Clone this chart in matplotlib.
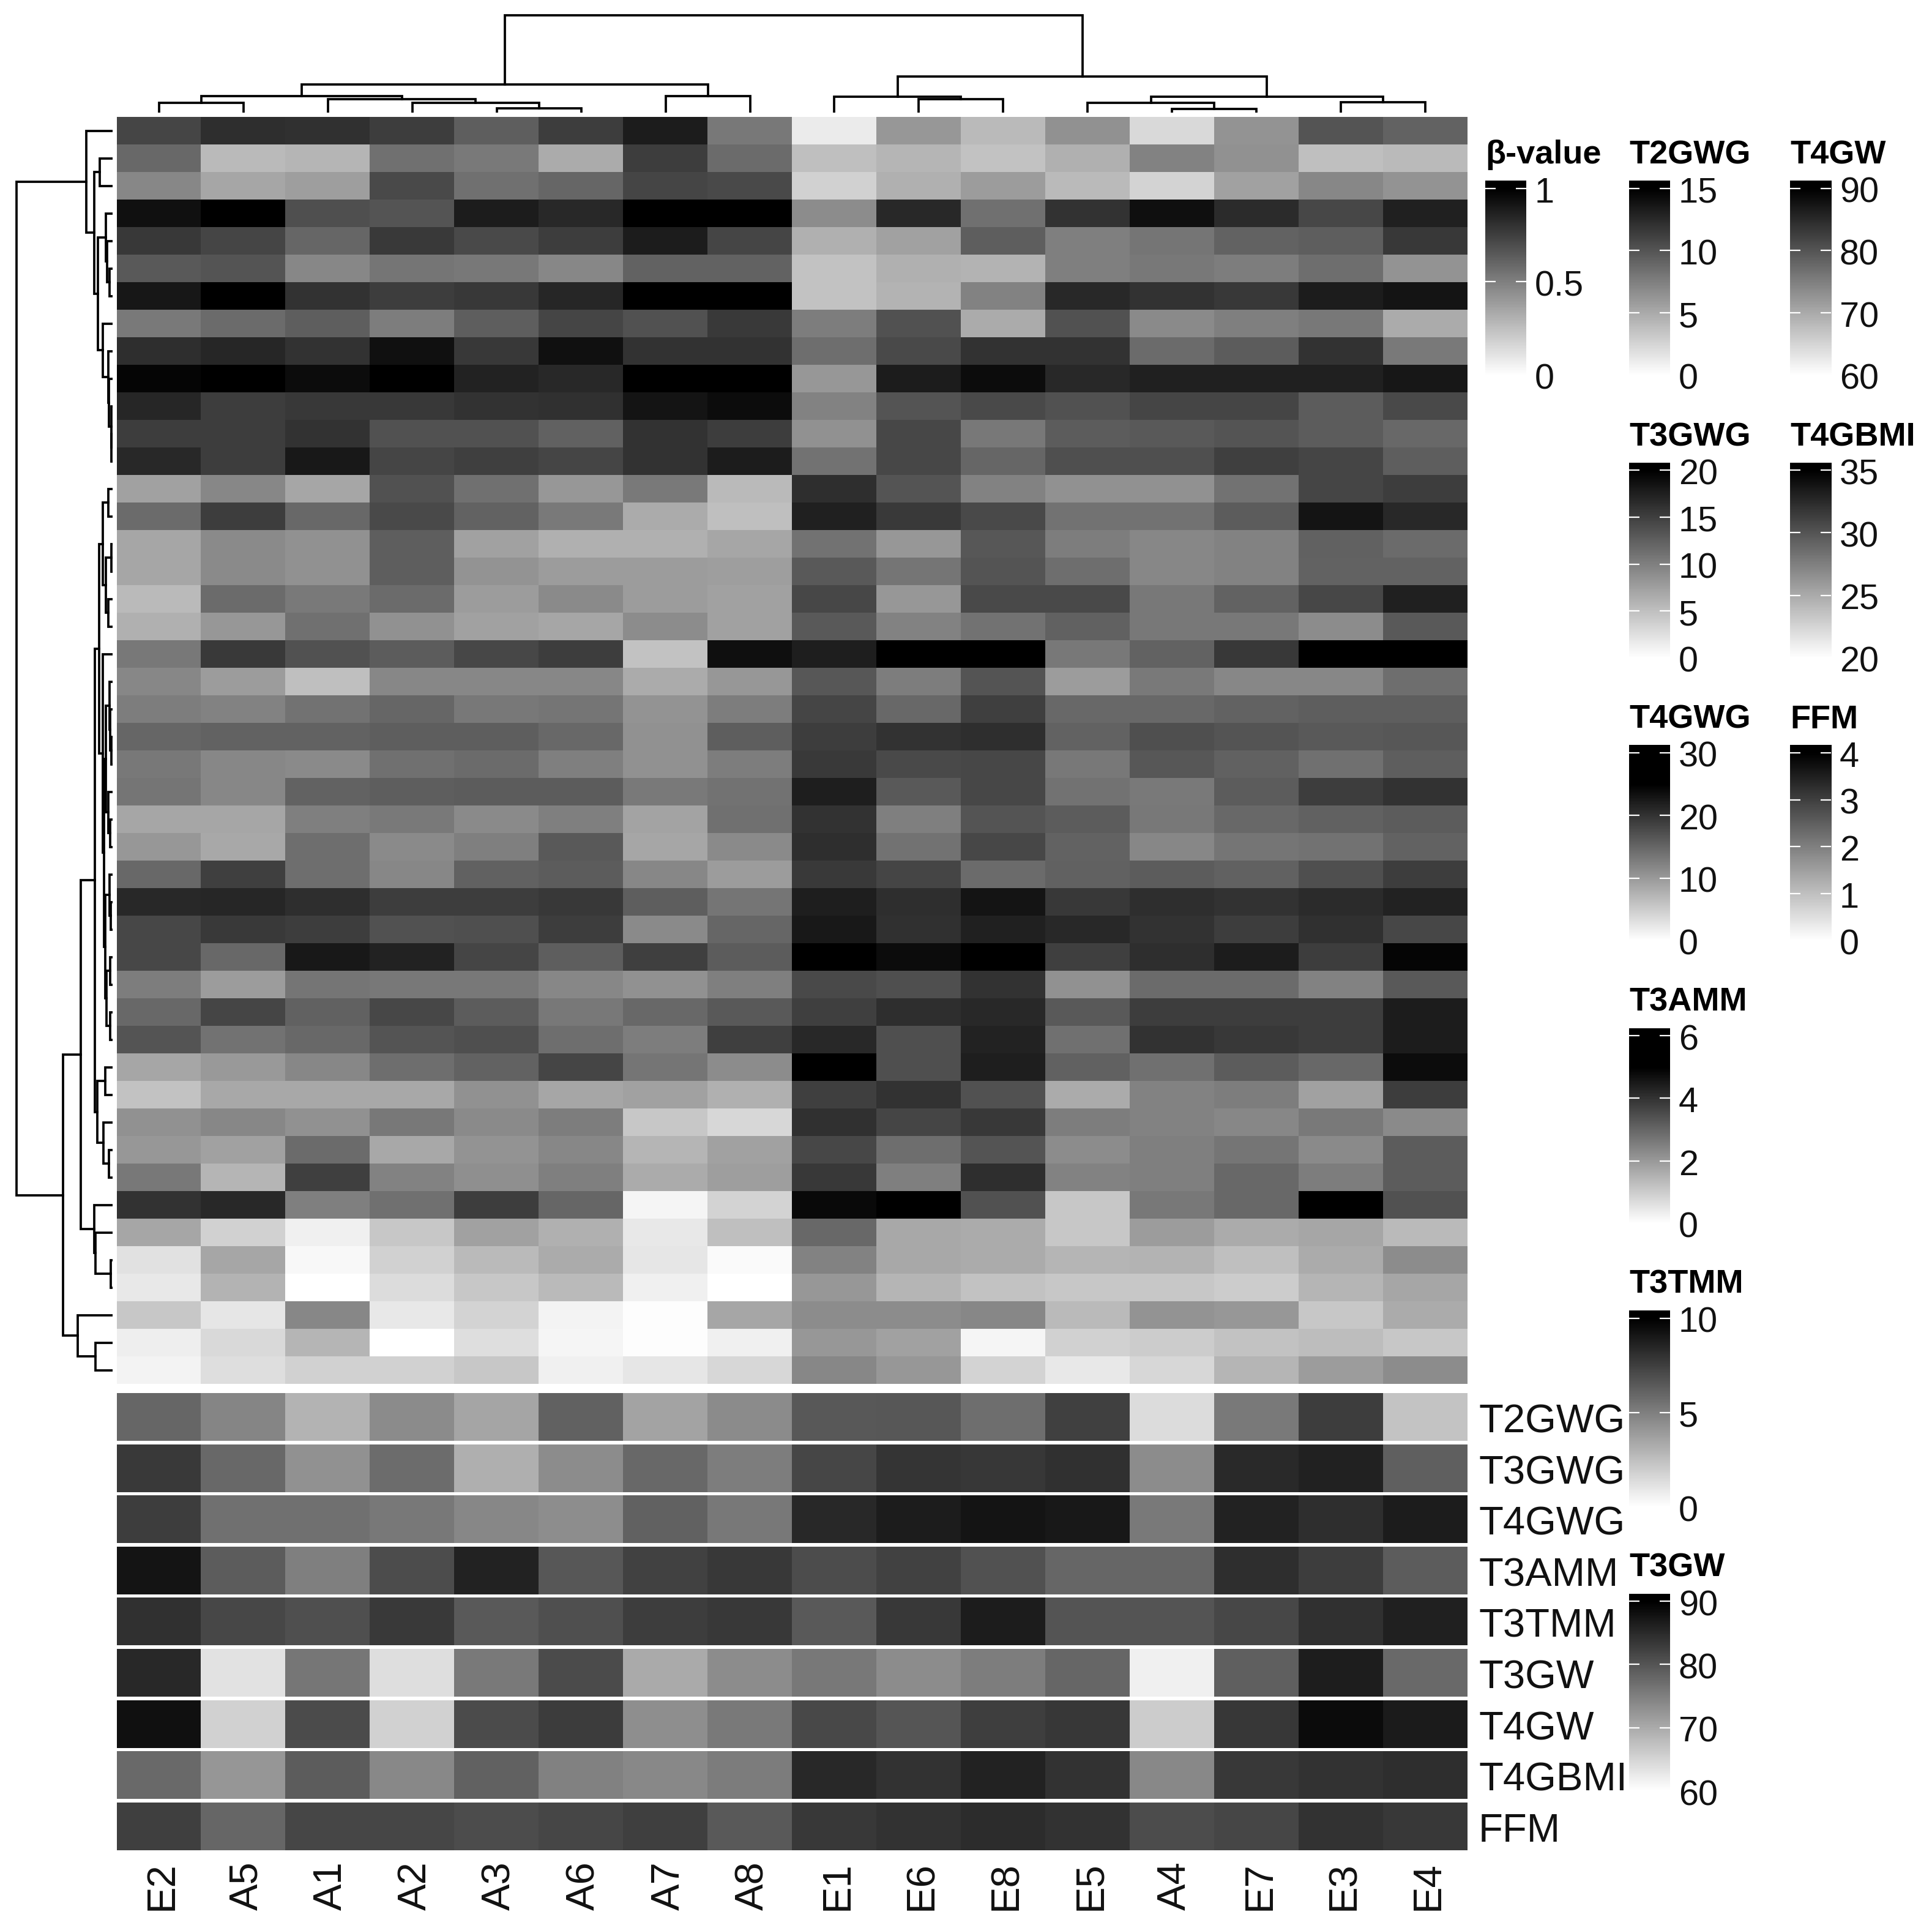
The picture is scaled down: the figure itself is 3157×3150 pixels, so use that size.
#!/usr/bin/env python
# methylation heatmap with sample annotation tracks and dendrograms

import numpy as np
import matplotlib
matplotlib.use("Agg")
import matplotlib.pyplot as plt
from matplotlib.colors import LinearSegmentedColormap, Normalize
from matplotlib.transforms import ScaledTranslation

plt.rcParams["font.family"] = ["Liberation Sans", "DejaVu Sans"]

samples = ["E2", "A5", "A1", "A2", "A3", "A6", "A7", "A8",
           "E1", "E6", "E8", "E5", "A4", "E7", "E3", "E4"]

# beta values in percent, one row per probe
beta_pct = [
    [73, 82, 81, 76, 63, 76, 89, 53, 8, 41, 27, 43, 15, 42, 67, 61],
    [59, 27, 29, 56, 52, 33, 76, 58, 25, 29, 24, 31, 49, 43, 25, 27],
    [47, 35, 38, 71, 56, 60, 73, 71, 18, 31, 39, 27, 17, 37, 47, 42],
    [93, 100, 69, 67, 89, 84, 100, 100, 45, 84, 56, 80, 94, 83, 72, 87],
    [78, 73, 60, 77, 71, 76, 89, 73, 31, 37, 63, 50, 54, 61, 63, 78],
    [65, 67, 47, 54, 53, 47, 61, 61, 24, 31, 30, 50, 53, 51, 57, 42],
    [91, 100, 80, 76, 78, 85, 100, 100, 24, 30, 49, 84, 80, 78, 89, 92],
    [52, 58, 63, 51, 63, 73, 68, 77, 51, 68, 33, 68, 46, 50, 53, 33],
    [82, 85, 80, 93, 78, 93, 80, 80, 57, 71, 80, 80, 58, 64, 80, 52],
    [98, 100, 95, 100, 86, 84, 100, 100, 41, 89, 95, 84, 87, 87, 87, 91],
    [85, 76, 78, 78, 80, 81, 92, 95, 49, 67, 71, 68, 73, 73, 64, 71],
    [76, 76, 80, 68, 68, 62, 80, 76, 43, 72, 53, 64, 65, 67, 64, 59],
    [84, 76, 90, 73, 75, 73, 80, 89, 55, 72, 60, 69, 69, 75, 73, 63],
    [37, 47, 35, 68, 56, 41, 52, 27, 82, 67, 49, 43, 43, 55, 73, 76],
    [58, 76, 59, 71, 61, 52, 33, 25, 87, 77, 71, 55, 55, 64, 92, 84],
    [35, 46, 43, 63, 37, 31, 31, 35, 55, 41, 66, 51, 47, 49, 62, 58],
    [35, 46, 43, 63, 42, 39, 39, 38, 65, 54, 67, 57, 47, 49, 61, 61],
    [27, 58, 52, 58, 39, 46, 39, 37, 72, 41, 71, 71, 53, 61, 72, 87],
    [31, 41, 56, 43, 37, 35, 45, 37, 65, 49, 55, 62, 53, 53, 45, 65],
    [53, 77, 68, 64, 72, 76, 24, 94, 88, 100, 100, 53, 61, 78, 100, 100],
    [47, 39, 25, 47, 47, 47, 33, 41, 66, 51, 67, 39, 52, 47, 47, 57],
    [51, 49, 55, 60, 53, 54, 42, 51, 73, 59, 75, 59, 59, 61, 63, 63],
    [60, 61, 61, 63, 63, 59, 43, 63, 76, 80, 82, 61, 69, 67, 65, 66],
    [53, 47, 46, 56, 58, 50, 43, 51, 77, 71, 72, 53, 66, 62, 56, 63],
    [54, 47, 61, 63, 64, 64, 52, 55, 88, 65, 72, 55, 52, 64, 76, 80],
    [35, 35, 50, 52, 46, 50, 36, 56, 80, 50, 67, 64, 53, 59, 62, 64],
    [41, 34, 57, 46, 50, 65, 35, 46, 82, 55, 72, 61, 47, 54, 55, 61],
    [59, 75, 57, 47, 62, 64, 47, 39, 77, 73, 58, 62, 64, 62, 69, 76],
    [84, 85, 82, 76, 76, 78, 63, 54, 88, 82, 92, 78, 82, 80, 83, 86],
    [72, 77, 76, 68, 69, 76, 46, 60, 90, 81, 87, 84, 80, 76, 81, 72],
    [72, 59, 90, 86, 73, 63, 75, 64, 100, 95, 100, 75, 82, 89, 76, 98],
    [51, 39, 54, 53, 53, 47, 43, 50, 71, 69, 80, 43, 58, 58, 49, 65],
    [59, 73, 62, 72, 64, 53, 59, 65, 75, 82, 84, 65, 76, 76, 76, 89],
    [67, 55, 59, 67, 69, 57, 51, 75, 84, 69, 86, 56, 80, 78, 76, 89],
    [35, 40, 47, 57, 61, 73, 54, 45, 100, 69, 88, 62, 56, 64, 59, 95],
    [24, 34, 34, 34, 43, 35, 37, 31, 75, 80, 68, 33, 49, 51, 37, 76],
    [43, 47, 43, 53, 46, 51, 22, 16, 81, 73, 78, 51, 49, 47, 52, 46],
    [41, 37, 58, 34, 42, 47, 29, 37, 72, 57, 67, 45, 50, 54, 46, 64],
    [53, 29, 75, 49, 44, 50, 33, 38, 78, 50, 82, 49, 50, 59, 51, 64],
    [80, 84, 50, 56, 76, 60, 4, 17, 96, 100, 68, 22, 53, 59, 100, 68],
    [35, 18, 6, 22, 37, 31, 9, 25, 59, 34, 33, 22, 39, 33, 35, 27],
    [12, 35, 3, 18, 27, 33, 10, 2, 49, 34, 33, 29, 30, 25, 33, 45],
    [9, 30, 0, 14, 22, 27, 6, 0, 41, 29, 24, 22, 22, 20, 29, 35],
    [22, 10, 47, 9, 17, 5, 1, 35, 45, 45, 47, 27, 42, 41, 22, 33],
    [7, 15, 29, 0, 13, 4, 1, 6, 41, 37, 4, 18, 20, 24, 26, 22],
    [5, 13, 18, 18, 22, 6, 10, 16, 47, 41, 17, 9, 16, 29, 39, 45],
]

# annotation tracks, same sample order as the columns
t2gwg = [9.0, 7.2, 4.5, 6.8, 5.3, 9.2, 5.4, 6.8, 9.8, 9.9, 8.5, 11.2, 2.1, 7.8, 11.4, 3.5]
t3gwg = [15.4, 11.8, 8.6, 11.5, 6.3, 9.0, 11.8, 10.2, 14.5, 15.9, 15.7, 16.1, 9.0, 16.7, 17.3, 12.5]
t4gwg = [19.0, 14.0, 14.0, 13.2, 11.8, 11.2, 15.5, 13.2, 21.0, 22.2, 23.0, 22.5, 13.0, 21.5, 20.5, 22.2]
t3amm = [4.6, 3.2, 2.5, 3.5, 4.3, 3.3, 3.7, 3.9, 3.5, 3.7, 3.4, 3.0, 3.0, 4.1, 3.8, 3.2]
t3tmm = [8.1, 7.2, 6.9, 7.7, 6.5, 6.9, 7.6, 7.8, 6.5, 7.8, 8.9, 6.7, 6.7, 7.2, 8.1, 8.7]
t3gw = [85.3, 63.5, 76.1, 63.9, 75.6, 81.1, 70.0, 73.5, 75.9, 73.5, 75.3, 78.0, 61.8, 78.8, 86.5, 77.6]
t4gw = [88.1, 65.5, 81.1, 65.5, 81.1, 82.9, 73.3, 75.6, 81.5, 80.0, 82.7, 83.5, 66.0, 83.5, 88.6, 86.8]
t4gbmi = [28.8, 26.2, 29.6, 27.0, 29.2, 27.4, 27.0, 27.7, 32.6, 32.0, 32.9, 32.0, 27.0, 31.7, 32.0, 32.3]
ffm = [3.0, 2.4, 2.9, 2.9, 2.8, 2.9, 3.0, 2.6, 3.1, 3.2, 3.3, 3.2, 2.8, 2.9, 3.2, 3.1]

track_names = ["T2GWG", "T3GWG", "T4GWG", "T3AMM", "T3TMM", "T3GW", "T4GW", "T4GBMI", "FFM"]
track_values = [t2gwg, t3gwg, t4gwg, t3amm, t3tmm, t3gw, t4gw, t4gbmi, ffm]
# colour limits per track, T4GWG and T3AMM go fully black before the top tick
track_limits = [(0, 15), (0, 20), (0, 25), (0, 5), (0, 10), (60, 90), (60, 90), (20, 35), (0, 4)]

# dendrograms: (height, left, right), a bare int is a leaf
col_tree = (159,
            (46,
             (27.5,
              (16, 0, 1),
              (22, 2, (16, 3, (7, 4, 5)))),
             (27.5, 6, 7)),
            (59,
             (26, 8, (22, 9, 10)),
             (26,
              (16, 11, (6, 12, 13)),
              (17, 14, 15))))

rows_4_7 = (11, 3, (9, 4, (5, 5, 6)))
rows_8_13 = (16, 7, (7, 8, (6, 9, (2, 10, (2, 11, 12)))))
rows_14_19 = (16, (7, 13, 14), (11, (2, 15, 16), (7, 17, 18)))
rows_21_27 = (11,
              (5, 20, (4, 21, (2, 22, 23))),
              (7, 24, (4, 25, 26)))
rows_28_34 = (12,
              (5, 27, (3, 28, 29)),
              (10, (4, 30, 31), (4, 32, 33)))
rows_35_39 = (25, (12, 34, 35), (15, 36, (6, 37, 38)))
row_tree = (157.5,
            (43, 0,
             (30,
              (21, 1, 2),
              (24, rows_4_7, rows_8_13))),
            (81,
             (52,
              (29,
               (22, rows_14_19, (16, 19, (14, rows_21_27, rows_28_34))),
               rows_35_39),
              (30, 39, (28, 40, (3, 41, 42)))),
             (57, 43, (28, 44, 45))))

# name, ticks, colour limits, labels
legends = [
    ("β-value", [0, 0.5, 1], (0, 1), ["0", "0.5", "1"], 2427, 248, 307.5, 613),
    ("T2GWG", [0, 5, 10, 15], (0, 15), None, 2662, 248, 307.5, 613),
    ("T4GW", [60, 70, 80, 90], (60, 90), None, 2925, 248, 307.5, 613),
    ("T3GWG", [0, 5, 10, 15, 20], (0, 20), None, 2662, 709, 768, 1075),
    ("T4GBMI", [20, 25, 30, 35], (20, 35), None, 2925, 709, 768, 1075),
    ("T4GWG", [0, 10, 20, 30], (0, 25), None, 2662, 1170, 1230, 1537),
    ("FFM", [0, 1, 2, 3, 4], (0, 4), None, 2925, 1170, 1230, 1537),
    ("T3AMM", [0, 2, 4, 6], (0, 5), None, 2662, 1632, 1692, 1999),
    ("T3TMM", [0, 5, 10], (0, 10), None, 2662, 2093, 2153.5, 2462),
    ("T3GW", [60, 70, 80, 90], (60, 90), None, 2662, 2556, 2616, 2926),
]

W, H = 3157, 3150
fig = plt.figure(figsize=(W / 100, H / 100), dpi=100)
cmap = LinearSegmentedColormap.from_list("wb", ["#ffffff", "#000000"])


def px_axes(x0, y0, x1, y1):
    return fig.add_axes([x0 / W, 1 - y1 / H, (x1 - x0) / W, (y1 - y0) / H])


def draw_tree(ax, node, vertical):
    if isinstance(node, int):
        return node + 0.5, 0
    h, left, right = node
    p1, h1 = draw_tree(ax, left, vertical)
    p2, h2 = draw_tree(ax, right, vertical)
    pos = [p1, p1, p2, p2]
    hs = [h1, h, h, h2]
    if vertical:
        ax.plot(pos, hs, color="black", lw=2.7, solid_joinstyle="miter")
    else:
        ax.plot(hs, pos, color="black", lw=2.7, solid_joinstyle="miter")
    return (p1 + p2) / 2, h


HM_L, HM_R, HM_T, HM_B = 191, 2398, 191, 2261

# main heatmap
beta = np.array(beta_pct) / 100
ax = px_axes(HM_L, HM_T, HM_R, HM_B)
ax.imshow(beta, cmap=cmap, vmin=0, vmax=1, aspect="auto", interpolation="nearest")
ax.axis("off")

# dendrograms
ax = px_axes(HM_L, 0, HM_R, 184)
draw_tree(ax, col_tree, True)
ax.set_xlim(0, len(samples))
ax.set_ylim(0, 184)
ax.axis("off")

ax = px_axes(0, HM_T, 184, HM_B)
draw_tree(ax, row_tree, False)
ax.set_xlim(184, 0)
ax.set_ylim(len(beta_pct), 0)
ax.axis("off")

# annotation tracks
for i, name in enumerate(track_names):
    top = 2276 + i * 83.6
    ax = px_axes(HM_L, top, HM_R, top + 78)
    vals = np.array(track_values[i]).reshape(1, -1)
    ax.imshow(vals, cmap=cmap, norm=Normalize(*track_limits[i]), aspect="auto",
              interpolation="nearest")
    ax.axis("off")
    fig.text(2416 / W, 1 - (top + 41) / H, name, fontsize=47, ha="left",
             va="center_baseline", color="#111111")
    if i == len(track_names) - 1:
        for j, s in enumerate(samples):
            fig.text((HM_L + (j + 0.5) * (HM_R - HM_L) / len(samples) + 5) / W,
                     1 - 3081 / H, s, fontsize=47, rotation=90, ha="center",
                     va="center", color="#111111")

# gradient legends
shift = ScaledTranslation(0, -2 / 100, fig.dpi_scale_trans)
for name, ticks, lim, labels, x, title_y, y_top, y_bot in legends:
    fig.text(x / W, 1 - title_y / H, name, fontsize=39, fontweight="bold",
             ha="left", va="center_baseline", color="black")
    per_px = (ticks[-1] - ticks[0]) / (y_bot - y_top)
    bar_top = ticks[-1] + 12.5 * per_px
    ax = px_axes(x, y_top - 12.5, x + 67, y_bot)
    grad = np.linspace(bar_top, ticks[0], 256).reshape(-1, 1)
    ax.imshow(grad, cmap=cmap, norm=Normalize(*lim), aspect="auto",
              extent=[0, 1, ticks[0], bar_top], interpolation="bilinear")
    ax.set_xticks([])
    ax.set_yticks(ticks)
    ax.set_yticklabels(labels if labels else [str(t) for t in ticks])
    ax.tick_params(axis="y", left=True, right=True, labelleft=False, labelright=True,
                   direction="in", color="white", length=12, width=1.6, pad=10,
                   labelsize=41.5, labelcolor="#111111")
    for s in ax.spines.values():
        s.set_visible(False)
    for tick in ax.yaxis.get_major_ticks():
        tick.label2.set_transform(tick.label2.get_transform() + shift)
        tick.label2.set_clip_on(False)

fig.savefig("out.png", dpi=100, facecolor="white")
plt.close(fig)
